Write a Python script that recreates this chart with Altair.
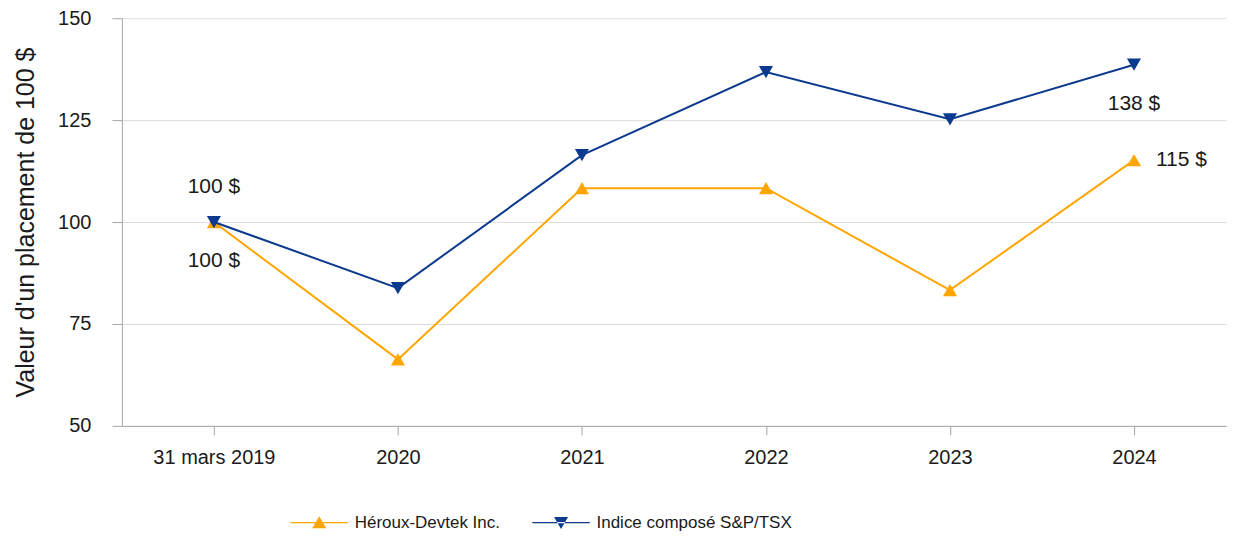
import altair as alt
import pandas as pd

categories = ["31 mars 2019", "2020", "2021", "2022", "2023", "2024"]
series_names = ["Héroux-Devtek Inc.", "Indice composé S&P/TSX"]
heroux = [100, 66.3, 108.3, 108.3, 83.3, 115.2]
tsx = [100, 83.8, 116.4, 136.8, 125.2, 138.6]
colors = ["#FFA500", "#0B3A8E"]
shapes = ["triangle-up", "triangle-down"]

label_series = ["Indice composé S&P/TSX", "Héroux-Devtek Inc.", "Indice composé S&P/TSX", "Héroux-Devtek Inc."]
label_cats = ["31 mars 2019", "31 mars 2019", "2024", "2024"]
label_vals = [100, 100, 138.6, 115.2]
label_text = ["100 $", "100 $", "138 $", "115 $"]
label_pos = ["above", "below", "below", "right"]

rows = []
for c, h, t in zip(categories, heroux, tsx):
    rows.append({"cat": c, "series": series_names[0], "value": h})
    rows.append({"cat": c, "series": series_names[1], "value": t})
df = pd.DataFrame(rows)

lab = pd.DataFrame({"cat": label_cats, "series": label_series, "value": label_vals,
                    "text": label_text, "pos": label_pos})

FONT = "Liberation Sans"
TXT = "#1a1a1a"

x_enc = alt.X("cat:N", sort=categories, title=None,
              scale=alt.Scale(type="point", padding=0.5),
              axis=alt.Axis(labelAngle=0, labelFontSize=20, labelPadding=13, tickSize=9,
                            domainColor="#a6a6a6", tickColor="#a6a6a6", labelColor=TXT,
                            grid=False, labelFont=FONT))
y_enc = alt.Y("value:Q", title="Valeur d'un placement de 100 $",
              scale=alt.Scale(domain=[50, 150], nice=False, zero=False),
              axis=alt.Axis(values=[50, 75, 100, 125, 150], labelFontSize=20, tickSize=10,
                            labelPadding=21, domainColor="#a6a6a6", tickColor="#a6a6a6",
                            gridColor="#dcdcdc", labelColor=TXT, titleFontSize=25,
                            titleFontWeight="normal", titleColor=TXT, titlePadding=19,
                            labelFont=FONT, titleFont=FONT))

series_layers = []
for name, col, shp in zip(series_names, colors, shapes):
    base = alt.Chart(df).transform_filter(alt.datum.series == name)
    series_layers.append(base.mark_line(strokeWidth=2, color=col).encode(x=x_enc, y=y_enc))
    series_layers.append(base.mark_point(filled=True, opacity=1, size=200, shape=shp, color=col)
                         .encode(x=x_enc, y=y_enc))

# legend symbols: a thin filled bar (the line) plus a triangle
legend_paths = [
    "M-3.6,-0.08H3.6V0.08H-3.6ZM-0.875,0.7L0,-0.8L0.875,0.7Z",
    "M-3.6,-0.08H3.6V0.08H-3.6ZM-0.875,-0.7L0,0.8L0.875,-0.7Z",
]
leg = alt.Legend(title=None, orient="none", direction="horizontal", legendX=189, legendY=496,
                 labelFontSize=17, labelFont=FONT, labelColor=TXT, symbolSize=256,
                 symbolStrokeWidth=0, labelOffset=27, columnPadding=31, labelLimit=400)

dummy = alt.Chart(df).transform_filter("false").mark_point(filled=True, opacity=1).encode(
    x=x_enc, y=y_enc,
    color=alt.Color("series:N", scale=alt.Scale(domain=series_names, range=colors), legend=leg),
    shape=alt.Shape("series:N", scale=alt.Scale(domain=series_names, range=legend_paths), legend=leg),
)

def text_layer(pos, align, dx, dy):
    return alt.Chart(lab).transform_filter(alt.datum.pos == pos).mark_text(
        fontSize=21, font=FONT, color=TXT, align=align, baseline="middle", dx=dx, dy=dy
    ).encode(x=x_enc, y=y_enc, text="text:N")

texts = alt.layer(
    text_layer("above", "center", 0, -35),
    text_layer("below", "center", 0, 39),
    text_layer("right", "left", 22, 0),
)

chart = alt.layer(*series_layers, dummy, texts).properties(
    width=1105, height=408,
    padding={"left": 5, "top": 0, "right": 5, "bottom": 0},
).configure_view(stroke="transparent")

chart.save("out.html", embed_options={"renderer": "svg", "actions": False})
